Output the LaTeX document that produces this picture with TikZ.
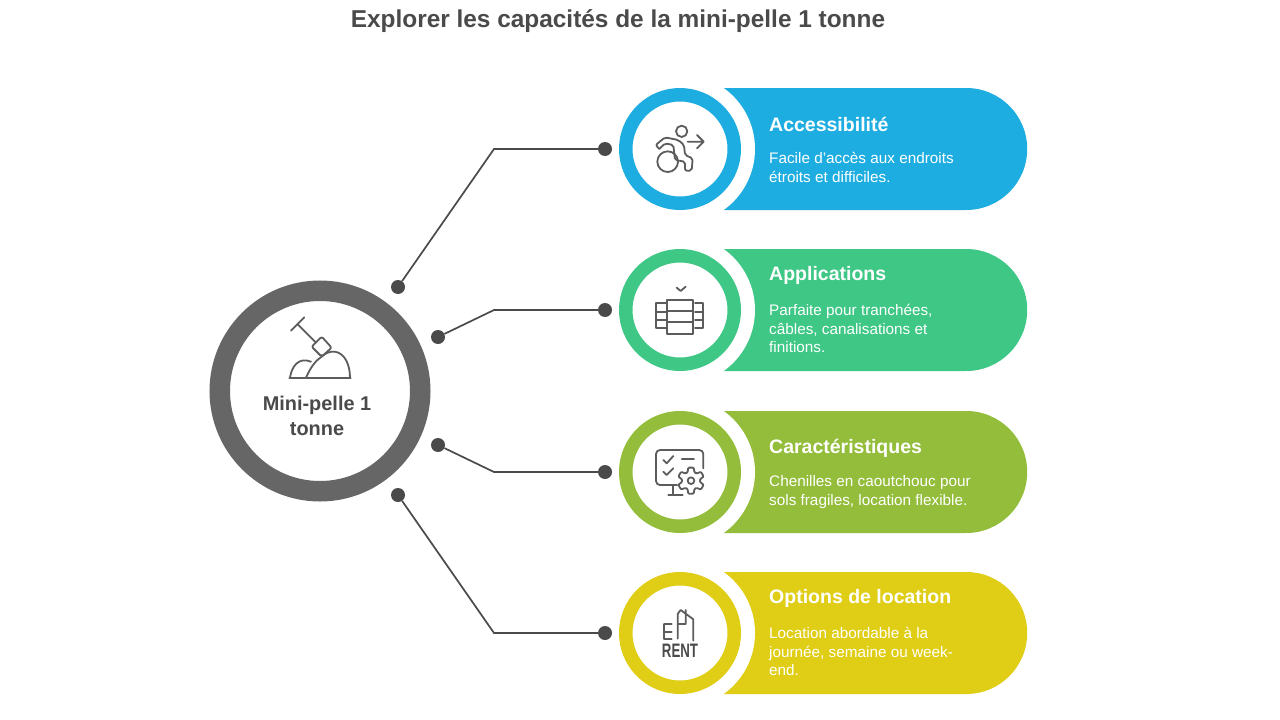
\documentclass[tikz,border=0pt]{standalone}
\usepackage{fontspec}
\usetikzlibrary{shapes.misc}
\setmainfont{Liberation Sans}
\definecolor{inkgray}{HTML}{4A4A4A}
\definecolor{hubgray}{HTML}{666666}
\definecolor{accblue}{HTML}{1EADE0}
\definecolor{appgreen}{HTML}{3EC785}
\definecolor{carlime}{HTML}{93BD3A}
\definecolor{optyellow}{HTML}{E0CD15}
\begin{document}
\begin{tikzpicture}[x=1pt, y=-1pt,
        pill/.style={rounded rectangle, rounded rectangle left arc=none, fill=#1, minimum width=347pt, minimum height=122pt, inner sep=0pt, anchor=west},
        gap/.style={circle, fill=white, minimum size=150pt, inner sep=0pt},
        ring/.style={circle, draw=#1, fill=white, line width=13.5pt, minimum size=108.5pt, inner sep=0pt},
        dot/.style={circle, fill=inkgray, minimum size=14pt, inner sep=0pt},
        link/.style={draw=inkgray, line width=1.7pt},
        icon/.style={draw=inkgray!90, line width=1.8pt, line cap=round, line join=round},
        heading/.style={anchor=base west, inner sep=0pt, text=white, font=\fontsize{19.5}{24}\selectfont\bfseries},
        desc/.style={anchor=west, inner sep=0pt, text=white, font=\fontsize{15.3}{18.7}\selectfont},
    ]
    \useasboundingbox (0,0) rectangle (1280,720);
    \node(title) at (618,21) [text=inkgray, font=\fontsize{24.4}{29}\selectfont\bfseries] {Explorer les capacités de la mini-pelle 1 tonne};

    % centre
    \node(hub) at (320,391) [circle, draw=hubgray, fill=white, line width=20.5pt, minimum size=200.5pt, inner sep=0pt] {};
    \node(hublabel) at (317,417.5) [inner sep=0pt, text=inkgray, font=\fontsize{19.9}{25}\selectfont\bfseries] {\begin{tabular}{@{}c@{}} Mini-pelle 1 \\ tonne \end{tabular}};

    % bandes
    \node[pill=accblue](pillacc) at (680,149) {};
    \node[pill=appgreen](pillapp) at (680,310) {};
    \node[pill=carlime](pillcar) at (680,472) {};
    \node[pill=optyellow](pillopt) at (680,633) {};
    \node[gap](gapacc) at (680,149) {};
    \node[gap](gapapp) at (680,310) {};
    \node[gap](gapcar) at (680,472) {};
    \node[gap](gapopt) at (680,633) {};
    \node[ring=accblue](ringacc) at (680,149) {};
    \node[ring=appgreen](ringapp) at (680,310) {};
    \node[ring=carlime](ringcar) at (680,472) {};
    \node[ring=optyellow](ringopt) at (680,633) {};

    % textes
    \node[heading](headacc) at (769,131) {Accessibilité};
    \node[desc](descacc) at (769,169) {\begin{tabular}{@{}l@{}} Facile d'accès aux endroits \\ étroits et difficiles. \end{tabular}};
    \node[heading](headapp) at (769,280) {Applications};
    \node[desc](descapp) at (769,330.5) {\begin{tabular}{@{}l@{}} Parfaite pour tranchées, \\ câbles, canalisations et \\ finitions. \end{tabular}};
    \node[heading](headcar) at (769,453.5) {Caractéristiques};
    \node[desc](desccar) at (769,492) {\begin{tabular}{@{}l@{}} Chenilles en caoutchouc pour \\ sols fragiles, location flexible. \end{tabular}};
    \node[heading](headopt) at (769,603) {Options de location};
    \node[desc](descopt) at (769,653.5) {\begin{tabular}{@{}l@{}} Location abordable à la \\ journée, semaine ou week- \\ end. \end{tabular}};

    % liaisons
    \node[dot](dotacc) at (605,149) {};
    \node[dot](dotapp) at (605,310) {};
    \node[dot](dotcar) at (605,472) {};
    \node[dot](dotopt) at (605,633) {};
    \node[dot](hubacc) at (398,287) {};
    \node[dot](hubapp) at (438,337) {};
    \node[dot](hubcar) at (438,445) {};
    \node[dot](hubopt) at (398,495) {};
    \coordinate (bendacc) at (494,149);
    \coordinate (bendapp) at (494,310);
    \coordinate (bendcar) at (494,472);
    \coordinate (bendopt) at (494,633);
    \draw[link] (hubacc) -- (bendacc) -- (dotacc);
    \draw[link] (hubapp) -- (bendapp) -- (dotapp);
    \draw[link] (hubcar) -- (bendcar) -- (dotcar);
    \draw[link] (hubopt) -- (bendopt) -- (dotopt);

    % pelle
    \begin{scope}[shift={(280,310)}, scale=1/3]
        \draw[icon] (33,62) -- (73,22) (52,42) -- (106,96);
        \draw[icon, rounded corners=2pt] (95,110) -- (125,80) -- (155,113) -- (125,140) -- cycle;
        \draw[icon] (28,203) -- (212,203);
        \draw[icon] (78,203) .. controls (95,165) and (110,150) .. (125,140) .. controls (135,130) and (150,123) .. (165,125) .. controls (195,130) and (210,165) .. (210,203);
        \draw[icon] (30,203) .. controls (35,170) and (55,140) .. (93,155);
    \end{scope}

    % fauteuil
    \begin{scope}[shift={(640,115)}, scale=1/3]
        \draw[icon] (125,49) circle (17);
        \draw[icon] (83,140) circle (31);
        \draw[icon] (143,80) -- (190,80) (171,60) -- (191,80) -- (171,100);
        \draw[icon, rounded corners=2pt] (58,102) -- (47,90) -- (75,67) -- (115,75) -- (132,90) -- (135,120) -- (158,130) -- (155,167) -- (135,167) -- (135,140) -- (105,135) -- (100,90) -- (75,85) -- (58,102);
    \end{scope}

    % tambour
    \begin{scope}[shift={(640,275)}, scale=1/3]
        \draw[icon] (110,38) -- (122,48) -- (137,35);
        \draw[icon] (82,75) rectangle (160,178) (82,108) -- (160,108) (82,142) -- (160,142);
        \draw[icon] (78,85) -- (48,85) -- (48,160) -- (78,160) (48,110) -- (78,110) (48,135) -- (78,135);
        \draw[icon] (165,85) -- (190,85) -- (190,160) -- (165,160) (165,110) -- (190,110) (165,135) -- (190,135);
    \end{scope}

    % ecran
    \begin{scope}[shift={(640,440)}, scale=1/3]
        \draw[icon, rounded corners=4pt] (190,85) -- (190,30) -- (48,30) -- (48,135) -- (112,135);
        \draw[icon] (100,135) -- (100,165) (85,165) -- (128,165);
        \draw[icon] (70,60) -- (80,70) -- (100,48) (70,95) -- (80,105) -- (100,85) (125,57) -- (162,57);
        \begin{scope}[shift={(153,122)}]
            \draw[icon, fill=white, rounded corners=1pt] (78:40) \foreach \a in {90,150,...,390} { -- (\a-12:40) -- (\a+12:40) -- (\a+22:27) -- (\a+38:27) } -- cycle;
            \draw[icon] (0,0) circle (10);
        \end{scope}
    \end{scope}

    % location
    \begin{scope}[shift={(640,600)}, scale=1/3]
        \draw[icon] (72,72) -- (72,116) (72,72) -- (95,72) (72,95) -- (95,95) (72,116) -- (95,116);
        \draw[icon] (113,116) -- (113,42) -- (122,30) -- (160,58) -- (160,122) (137,30) -- (137,72) (113,72) -- (137,72);
    \end{scope}
    \node(rentlabel) at (680,650.5) [inner sep=0pt, text=inkgray, xscale=0.68, font=\fontsize{19.5}{20}\selectfont\bfseries] {RENT};
\end{tikzpicture}
\end{document}
